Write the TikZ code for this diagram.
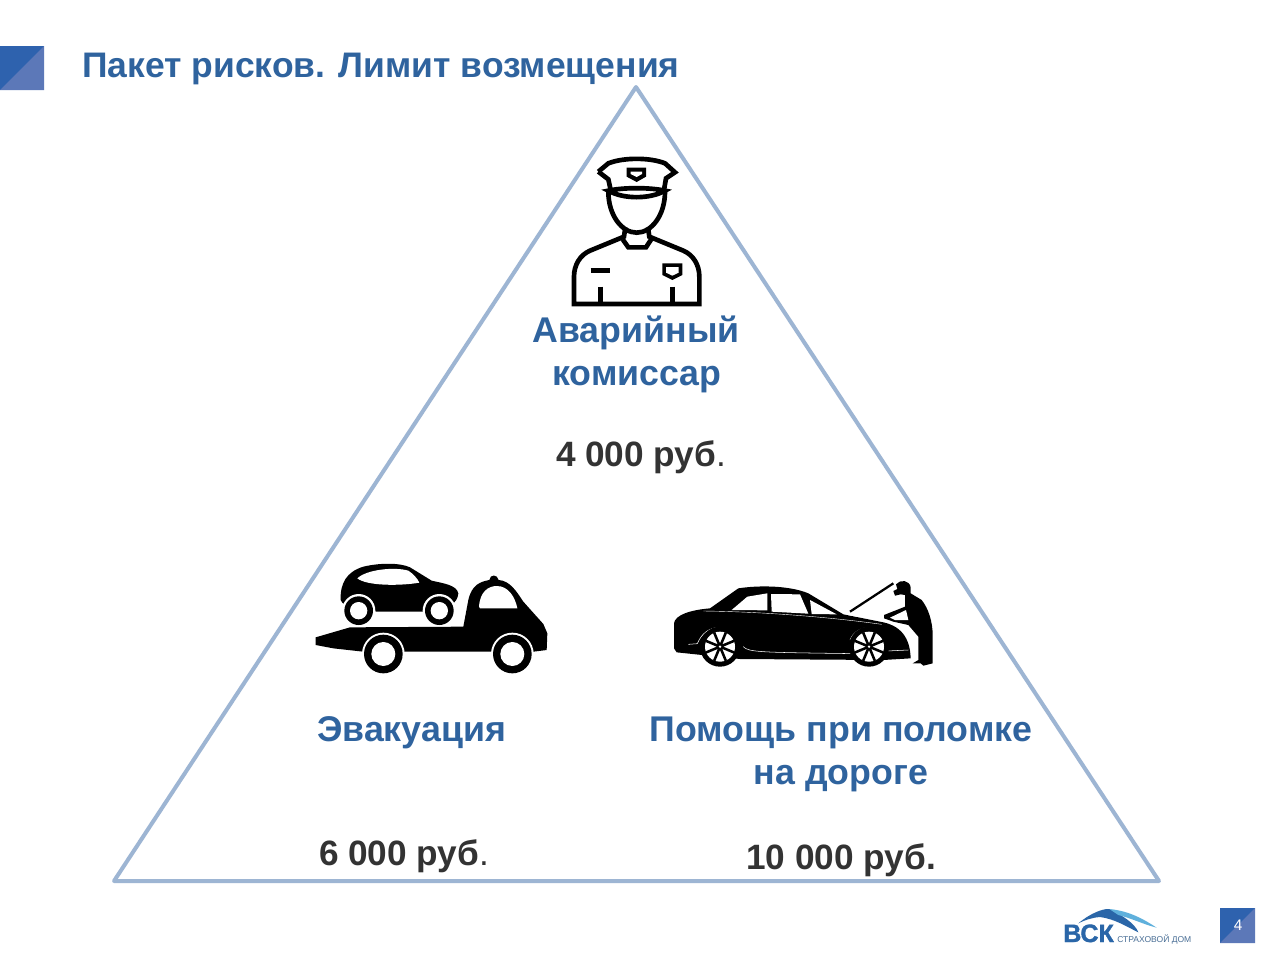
\documentclass[tikz,border=0pt]{standalone}
\usepackage{fontspec}
\setmainfont{Liberation Sans}
\newfontfamily\vskfont{Liberation Sans}[BoldFeatures={FakeBold=1.5}]
\definecolor{txtblue}{HTML}{2F639E}
\definecolor{txtdark}{HTML}{333333}
\definecolor{triline}{HTML}{9DB5D3}
\definecolor{sqdark}{HTML}{2E62AE}
\definecolor{sqlight}{HTML}{5C78B8}
\definecolor{logoblue}{HTML}{2A66A8}
\definecolor{logolight}{HTML}{5FB0DC}
\definecolor{logogray}{HTML}{4A6F96}
\tikzset{
  x=.75pt,y=-.75pt,
  headtext/.style={anchor=base,inner sep=0,text=txtblue,font=\fontsize{26.8}{30}\selectfont\bfseries},
  pricetext/.style={anchor=base,inner sep=0,text=txtdark,font=\fontsize{26.4}{30}\selectfont\bfseries},
  icon/.style={x=.25pt,y=-.25pt},
  kit/.style={line width=3.5pt,black,line join=miter,fill=none},
}
\begin{document}
\begin{tikzpicture}
\useasboundingbox (0,0) rectangle (1280,960);
\fill[white] (0,0) rectangle (1280,960);
% corner square
\fill[sqdark] (0,46) rectangle (44,90);
\fill[sqlight] (44,46) -- (44,90) -- (0,90) -- cycle;
\node[headtext,anchor=base west,font=\fontsize{26.6}{30}\selectfont\bfseries] (title) at (82,77) {Пакет рисков. Лимит возмещения};
% triangle
\draw[triline,line width=3pt,line join=round] (636,87) -- (114,881) -- (1159,881) -- cycle;
% officer
\begin{scope}[shift={(540,140)},icon]
\draw[kit] (175,95) -- (205,70) .. controls (250,52) and (330,52) .. (375,70) -- (405,97) -- (378,115) -- (372,150);
\draw[kit] (175,95) -- (205,118) -- (212,150);
\draw[kit] (205,152) .. controls (250,142) and (330,142) .. (375,152) .. controls (330,178) and (250,178) .. (205,152) -- cycle;
\draw[kit] (205,155) .. controls (205,225) and (245,278) .. (290,278) .. controls (335,278) and (375,225) .. (375,155);
\draw[kit] (256,262) -- (252,290) -- (150,332) .. controls (120,345) and (102,375) .. (102,410) -- (102,492) -- (478,492) -- (478,410) .. controls (478,375) and (460,345) .. (430,332) -- (328,290) -- (324,262);
\draw[kit] (248,298) -- (265,322) -- (318,322) -- (335,296);
\draw[kit] (152,392) -- (210,392);
\draw[kit] (181,440) -- (181,492);
\draw[kit] (397,440) -- (397,492);
\fill[black] (367,370) -- (427,370) -- (427,405) -- (397,420) -- (367,405) -- cycle;
\fill[white] (378,381) -- (416,381) -- (416,398) -- (397,407) -- (378,398) -- cycle;
\fill[black] (260,83) -- (318,83) -- (318,110) -- (290,126) -- (260,110) -- cycle;
\fill[white] (272,95) -- (306,95) -- (306,102) -- (290,111) -- (272,102) -- cycle;
\end{scope}
% tow truck
\begin{scope}[shift={(300,550)},icon]
\fill[black] (122,150) .. controls (120,100) and (140,65) .. (190,50) .. controls (240,38) and (300,38) .. (330,52) -- (395,92) .. controls (430,100) and (470,105) .. (475,130) .. controls (472,160) and (450,175) .. (380,185) -- (230,185) .. controls (180,170) and (130,175) .. (122,150) -- cycle;
\fill[white] (172,85) .. controls (200,58) and (285,50) .. (325,62) .. controls (340,72) and (352,85) .. (358,98) .. controls (300,108) and (200,108) .. (172,85) -- cycle;
\fill[white] (176,182) circle (50);
\fill[white] (418,182) circle (50);
\fill[black] (176,182) circle (43);
\fill[black] (418,182) circle (43);
\fill[white] (176,182) circle (26);
\fill[white] (418,182) circle (26);
\fill[black] (47,262) -- (150,232) -- (490,230) -- (505,150) .. controls (515,105) and (540,95) .. (568,90) .. controls (570,72) and (592,72) .. (596,90) .. controls (630,92) and (650,125) .. (670,155) -- (730,222) -- (742,250) -- (740,300) -- (700,305) -- (190,305) -- (100,295) -- (47,285) -- cycle;
\fill[white] (537,170) .. controls (540,125) and (565,108) .. (590,108) .. controls (625,108) and (645,140) .. (652,175) -- (540,175) -- cycle;
\fill[white] (250,312) circle (64);
\fill[white] (637,312) circle (64);
\fill[black] (250,312) circle (58);
\fill[black] (637,312) circle (58);
\fill[white] (250,312) circle (36);
\fill[white] (637,312) circle (36);
\end{scope}
% car with mechanic
\begin{scope}[shift={(660,565)},icon]
\fill[black] (42,175) .. controls (45,150) and (90,135) .. (150,130) -- (235,70) .. controls (300,60) and (390,62) .. (445,85) -- (550,148) -- (660,170) .. controls (720,180) and (750,215) .. (752,280) -- (670,285) -- (240,282) -- (50,262) -- (42,250) -- cycle;
\fill[white] (215,135) -- (262,95) -- (322,85) -- (322,136) -- cycle;
\fill[white] (333,87) -- (420,88) -- (445,146) -- (335,140) -- cycle;
\fill[white] (450,105) -- (530,148) -- (455,147) -- cycle;
\fill[white] (565,150) -- (595,140) -- (592,155) -- cycle;
\draw[white,line width=.3pt] (130,138) .. controls (300,140) and (500,155) .. (665,178);
\draw[white,line width=.4pt] (250,245) .. controls (265,262) and (300,262) .. (590,266);
\draw[white,line width=.4pt] (85,238) -- (112,236) .. controls (125,205) and (145,190) .. (175,187);
\draw[white,line width=.4pt] (570,225) .. controls (580,200) and (600,190) .. (625,187);
\draw[white,line width=.4pt] (680,258) -- (745,255);
\foreach \cx/\nm in {180/a,627/b}{
  \fill[black] (\cx,245) circle (60);
  \fill[white] (\cx,245) circle (45);
  \foreach \ang in {0,45,...,315}{\draw[black,line width=1.9pt] (\cx,245) -- ++(22.5+\ang:46);}
  \fill[black] (\cx,245) circle (11);
  \fill[white] (\cx,245) circle (4);
}
\draw[black,line width=1.7pt] (570,140) -- (700,55);
\fill[black] (708,58) .. controls (720,42) and (750,45) .. (752,68) -- (752,85) -- (785,105) .. controls (805,130) and (818,170) .. (818,210) -- (818,295) -- (790,302) -- (782,295) -- (758,295) -- (775,285) -- (775,215) -- (745,180) -- (700,170) -- (672,160) -- (672,150) -- (735,125) -- (735,90) -- (722,88) -- (705,92) -- (700,78) -- (712,72) -- cycle;
\fill[white] (690,158) -- (738,135) -- (745,165) -- (705,165) -- cycle;
\end{scope}
% labels
\node[headtext] (a1) at (636,342) {Аварийный};
\node[headtext] (a2) at (637,385) {комиссар};
\node[pricetext] (ap) at (641,466) {4 000 руб{\fontseries{m}\selectfont.}};
\node[headtext] (b1) at (411.5,741) {Эвакуация};
\node[pricetext] (bp) at (404,865) {6 000 руб{\fontseries{m}\selectfont.}};
\node[headtext] (c1) at (841,741) {Помощь при поломке};
\node[headtext] (c2) at (841,784) {на дороге};
\node[pricetext] (cp) at (841,869) {10 000 руб.};
% logo
\begin{scope}[shift={(1050,895)},icon]
\fill[logoblue] (85,85) .. controls (120,55) and (160,40) .. (178,42) .. controls (215,60) and (255,85) .. (265,112) .. controls (230,95) and (195,72) .. (150,66) .. controls (125,68) and (105,75) .. (85,85) -- cycle;
\fill[logolight] (178,42) .. controls (240,48) and (285,75) .. (320,98) .. controls (280,88) and (245,70) .. (205,60) -- cycle;
\end{scope}
\node[inner sep=0,anchor=base west,text=logoblue,font=\fontsize{18.8}{20}\vskfont\bfseries] (vsk) at (1063,942) {ВСК};
\node[inner sep=0,anchor=base west,text=logogray,font=\fontsize{6.4}{7}\selectfont] (vskt) at (1117,942) {СТРАХОВОЙ ДОМ};
% page number
\fill[sqdark] (1220,908) rectangle (1255,943);
\fill[sqlight] (1255,908) -- (1255,943) -- (1220,943) -- cycle;
\node[inner sep=0,text=white,font=\fontsize{11.5}{13}\selectfont] (pg) at (1238,925.5) {4};
\end{tikzpicture}
\end{document}
